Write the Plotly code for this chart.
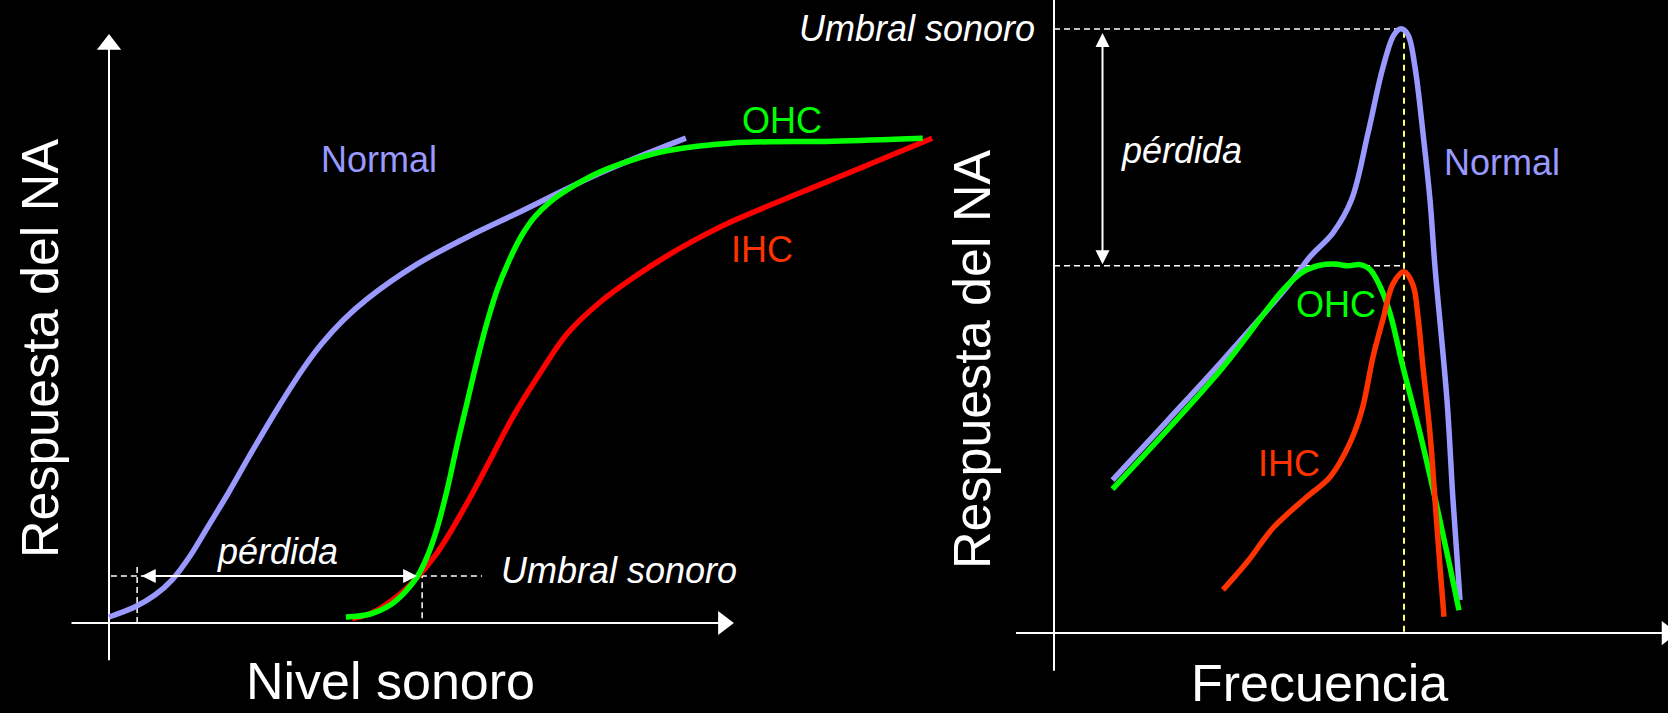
import plotly.graph_objects as go

# ---------------- Left panel: respuesta vs. nivel sonoro ----------------
nivel_normal = [0.0, 4.2, 7.4, 10.1, 13.0, 15.8, 19.0, 23.0, 27.0, 31.0, 34.0, 37.5, 41.3, 49.3, 57.3, 65.3, 78.6, 92.3]
resp_normal = [1.0, 2.7, 4.7, 7.2, 11.2, 16.0, 21.5, 28.8, 35.8, 42.3, 46.5, 50.5, 54.0, 59.8, 64.3, 68.3, 75.0, 80.8]

nivel_ohc = [37.9, 41.8, 45.0, 47.4, 49.3, 51.0, 52.5, 54.1, 55.8, 57.4, 59.0, 60.6, 62.2, 64.2, 66.1,
             68.2, 70.6, 73.8, 78.6, 83.8, 89.3, 99.8, 115.8, 130.2]
resp_ohc = [1.0, 1.5, 3.0, 5.2, 7.7, 11.3, 15.8, 22.2, 30.2, 37.2, 44.2, 50.5, 55.8, 60.8, 64.7,
            67.8, 70.2, 72.5, 75.2, 77.2, 78.7, 80.0, 80.3, 80.8]

nivel_ihc = [38.9, 42.1, 45.3, 48.5, 52.5, 57.3, 61.0, 64.6, 69.0, 73.3, 78.6, 83.8, 89.3, 94.6, 99.8, 110.6, 121.3, 131.7]
resp_ihc = [0.7, 1.7, 3.8, 6.7, 11.7, 20.0, 27.2, 34.3, 41.7, 48.2, 53.5, 57.5, 61.2, 64.3, 67.0, 71.7, 76.3, 80.8]

umbral_nivel = 7.83          # response level of the threshold line
umbral_x_normal = 4.5        # threshold crossing, normal
umbral_x_lesion = 50.1       # threshold crossing, lesion
perdida_nivel = [5.0, 49.3]  # extent of the level loss arrow

# ---------------- Right panel: respuesta vs. frecuencia ----------------
frec_normal = [11.7, 22.8, 33.8, 47.2, 51.2, 55.8, 59.5, 62.8, 65.8, 68.0, 69.4, 70.8, 72.2, 73.8, 75.2, 76.2, 78.6, 79.8, 81.2]
resp_f_normal = [25.5, 35.5, 45.5, 58.3, 62.7, 66.7, 72.2, 83.3, 94.3, 99.7, 100.7, 99.7, 94.3, 83.3, 72.2, 61.0, 38.8, 22.2, 5.5]

frec_ohc = [11.7, 33.8, 45.8, 49.8, 53.2, 56.2, 58.8, 61.2, 63.2, 65.2, 67.2, 69.8, 73.2, 76.6, 79.2, 81.0]
resp_f_ohc = [24.0, 44.3, 57.2, 60.2, 61.3, 61.5, 61.2, 61.4, 60.6, 57.8, 53.3, 44.3, 33.3, 21.0, 11.0, 3.8]

frec_ihc = [33.8, 38.8, 43.8, 50.6, 55.2, 59.2, 61.6, 63.8, 65.8, 67.8, 70.0, 71.8, 72.8, 73.8, 75.2, 76.2, 77.2, 78.0]
resp_f_ihc = [7.2, 12.0, 17.5, 22.7, 26.0, 31.7, 37.2, 46.0, 52.3, 58.2, 60.2, 58.0, 52.7, 44.3, 33.3, 22.2, 11.0, 2.7]

frec_cf = 70.0               # characteristic frequency
umbral_normal = 100.67       # normal tip level
umbral_lesion = 61.2         # tip level after OHC loss
perdida_frec = 9.7           # x position of the sensitivity loss arrow

COL_NORMAL = "#9999FF"
COL_OHC = "#00FF00"
COL_IHC_L = "#FF0000"
COL_IHC_R = "#FF3300"
COL_IHC_TXT = "#FF3300"
FONT = "Arial, 'Liberation Sans', sans-serif"

fig = go.Figure()


def curve(x, y, color, xa, ya, width=5.5):
    fig.add_trace(go.Scatter(x=x, y=y, mode="lines", xaxis=xa, yaxis=ya,
                             line=dict(color=color, width=width, shape="spline", smoothing=1.0),
                             hoverinfo="skip", cliponaxis=False))


def seg(x, y, xa, ya, color="white", width=2, dash="solid"):
    fig.add_trace(go.Scatter(x=x, y=y, mode="lines", xaxis=xa, yaxis=ya,
                             line=dict(color=color, width=width, dash=dash),
                             hoverinfo="skip", cliponaxis=False))


def head(x, y, symbol, xa, ya, size=21):
    fig.add_trace(go.Scatter(x=[x], y=[y], mode="markers", xaxis=xa, yaxis=ya,
                             marker=dict(symbol=symbol, size=size, color="white", line=dict(width=0)),
                             hoverinfo="skip", cliponaxis=False))


# left axes with arrow heads
seg([0, 0], [-6.2, 96.5], "x", "y")
head(0, 96.4, "triangle-up", "x", "y")
seg([-6.0, 98.5], [0, 0], "x", "y")
head(98.3, 0, "triangle-right", "x", "y")

# left threshold guides
seg([0.3, 59.7], [umbral_nivel, umbral_nivel], "x", "y", width=1.5, dash="6px,4px")
seg([umbral_x_normal, umbral_x_normal], [0, 10.0], "x", "y", width=1.5, dash="6px,4px")
seg([umbral_x_lesion, umbral_x_lesion], [0.8, umbral_nivel], "x", "y", width=1.5, dash="6px,4px")

curve(nivel_normal, resp_normal, COL_NORMAL, "x", "y")
curve(nivel_ihc, resp_ihc, COL_IHC_L, "x", "y")
curve(nivel_ohc, resp_ohc, COL_OHC, "x", "y")

# right axes
seg([0, 0], [-6.3, 110], "x2", "y2")
seg([-7.6, 122.5], [0, 0], "x2", "y2")
head(122.6, 0, "triangle-right", "x2", "y2")

# right threshold guides
seg([0, frec_cf - 0.6], [umbral_normal, umbral_normal], "x2", "y2", width=1.5, dash="6px,4px")
seg([0, frec_cf - 0.8], [umbral_lesion, umbral_lesion], "x2", "y2", width=1.5, dash="6px,4px")
seg([frec_cf, frec_cf], [0.2, umbral_normal], "x2", "y2", color="#FFFF66", width=2, dash="6px,5px")

curve(frec_normal, resp_f_normal, COL_NORMAL, "x2", "y2")
curve(frec_ohc, resp_f_ohc, COL_OHC, "x2", "y2")
curve(frec_ihc, resp_f_ihc, COL_IHC_R, "x2", "y2")

ann = []


def text(x, y, s, xr, yr, size=36, color="white", italic=False, angle=0, xanchor="center"):
    ann.append(dict(x=x, y=y, xref=xr, yref=yr, text=s, showarrow=False, textangle=angle,
                    xanchor=xanchor, yanchor="middle",
                    font=dict(family=FONT, size=size, color=color,
                              style="italic" if italic else "normal")))


def double_arrow(x0, y0, x1, y1, xr, yr):
    ann.append(dict(x=x1, y=y1, ax=x0, ay=y0, xref=xr, yref=yr, axref=xr, ayref=yr,
                    text="", showarrow=True, arrowside="end+start",
                    arrowhead=2, startarrowhead=2, arrowsize=1.4, startarrowsize=1.4,
                    arrowwidth=2, arrowcolor="white", standoff=0, startstandoff=0))


# left panel labels
text(-11.0, 45.7, "Respuesta del NA", "x", "y", size=52, angle=-90)
text(45.1, -9.7, "Nivel sonoro", "x", "y", size=52)
text(43.2, 77.2, "Normal", "x", "y", color=COL_NORMAL)
text(107.7, 83.8, "OHC", "x", "y", color=COL_OHC)
text(104.4, 62.2, "IHC", "x", "y", color=COL_IHC_TXT)
text(26.9, 12.0, "pérdida", "x", "y", italic=True)
text(62.4, 8.8, "Umbral sonoro", "x", "y", italic=True, xanchor="left")
double_arrow(perdida_nivel[0], umbral_nivel, perdida_nivel[1], umbral_nivel, "x", "y")

# right panel labels
text(-16.4, 45.5, "Respuesta del NA", "x2", "y2", size=52, angle=-90)
text(53.0, -8.4, "Frecuencia", "x2", "y2", size=52)
text(89.6, 78.5, "Normal", "x2", "y2", color=COL_NORMAL)
text(56.4, 54.8, "OHC", "x2", "y2", color=COL_OHC)
text(47.0, 28.3, "IHC", "x2", "y2", color=COL_IHC_TXT)
text(25.4, 80.5, "pérdida", "x2", "y2", italic=True)
text(-3.4, umbral_normal, "Umbral sonoro", "x2", "y2", italic=True, xanchor="right")
double_arrow(perdida_frec, umbral_lesion, perdida_frec, 100.0, "x2", "y2")

split = 960 / 1668
fig.update_layout(
    width=1668, height=713,
    margin=dict(l=0, r=0, t=0, b=0),
    paper_bgcolor="black", plot_bgcolor="black",
    showlegend=False,
    annotations=ann,
    xaxis=dict(domain=[0, split], range=[-17.44, 136.16], visible=False, fixedrange=True),
    yaxis=dict(domain=[0, 1], range=[-15.0, 103.83], visible=False, fixedrange=True),
    xaxis2=dict(domain=[split, 1], range=[-18.8, 122.8], visible=False, fixedrange=True, anchor="y2"),
    yaxis2=dict(domain=[0, 1], range=[-13.33, 105.5], visible=False, fixedrange=True, anchor="x2"),
)

fig.write_html("out.html")
